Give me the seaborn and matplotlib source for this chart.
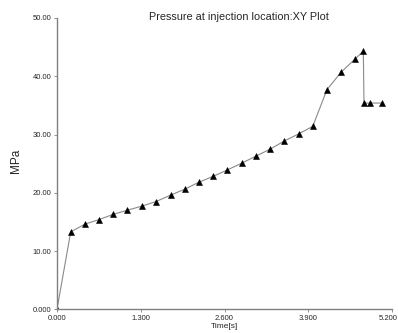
import matplotlib
matplotlib.use("Agg")
import matplotlib.pyplot as plt
import matplotlib.transforms as mtransforms
import seaborn as sns
import pandas as pd

time_s = [0.0, 0.213, 0.43, 0.652, 0.874, 1.09, 1.315, 1.537, 1.765, 1.98, 2.20, 2.42,
          2.64, 2.87, 3.09, 3.31, 3.53, 3.75, 3.97, 4.19, 4.41, 4.63, 4.755, 4.765, 4.86, 5.04]
pressure_mpa = [0.0, 13.3, 14.6, 15.4, 16.3, 17.0, 17.7, 18.5, 19.6, 20.6, 21.8, 22.8,
                23.9, 25.1, 26.3, 27.5, 28.9, 30.1, 31.4, 37.7, 40.7, 43.0, 44.3, 35.4, 35.4, 35.4]
x_ticks = [0.0, 1.3, 2.6, 3.9, 5.2]
x_tick_labels = ["0.000", "1.300", "2.600", "3.900", "5.200"]
y_ticks = [0, 10, 20, 30, 40, 50]
y_tick_labels = ["0.000", "10.00", "20.00", "30.00", "40.00", "50.00"]

df = pd.DataFrame({"Time": time_s, "Pressure": pressure_mpa})

sns.set_style("white")
plt.rcParams["font.family"] = ["Liberation Sans", "DejaVu Sans"]

fig = plt.figure(figsize=(3.98, 3.33), dpi=100)
ax = fig.add_axes([57/398, 1-309.3/333, 335/398, (309.3-18)/333])

sns.lineplot(data=df, x="Time", y="Pressure", sort=False, ax=ax, color="#8a8a8a",
             linewidth=0.8, marker="^", markersize=4.5, markerfacecolor="black",
             markeredgecolor="black", markeredgewidth=0.4)

ax.set_xlim(0, 5.2)
ax.set_ylim(0, 50)
ax.set_xticks(x_ticks)
ax.set_xticklabels(x_tick_labels, fontsize=5.5)
ax.set_yticks(y_ticks)
ax.set_yticklabels(y_tick_labels, fontsize=5.5)
ax.tick_params(axis="both", length=2.5, width=0.6, color="#808080", pad=1.5, direction="out",
               bottom=True, left=True)

last = ax.get_xticklabels()[-1]
last.set_ha("right")
last.set_transform(last.get_transform() + mtransforms.ScaledTranslation(6/100, 0, fig.dpi_scale_trans))

for s in ["top", "right"]:
    ax.spines[s].set_visible(False)
for s in ["left", "bottom"]:
    ax.spines[s].set_color("#808080")
    ax.spines[s].set_linewidth(1.0)

ax.set_xlabel("Time[s]", fontsize=6, labelpad=1)
ax.set_ylabel("")
fig.text(15.5/398, 1-161/333, "MPa", rotation=90, fontsize=8.5, ha="center", va="center")
fig.text(238.5/398, 1-17/333, "Pressure at injection location:XY Plot", fontsize=7.8,
         ha="center", va="center")

fig.savefig("out.png", dpi=100)
